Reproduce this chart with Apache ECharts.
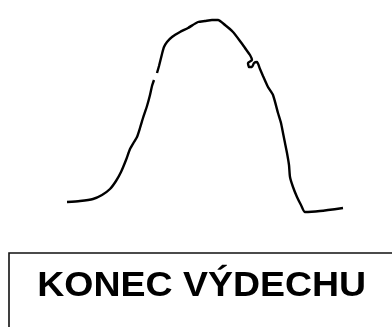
<!DOCTYPE html>
<html>
<head>
<meta charset="utf-8">
<script src="https://cdn.jsdelivr.net/npm/echarts@6/dist/echarts.min.js"></script>
<style>
  html, body { margin: 0; padding: 0; background: #fff; }
  #chart { width: 392px; height: 327px; }
</style>
</head>
<body>
<div id="chart"></div>
<script>
// Expiration trace, sketched: time (horizontal) against flow (vertical).
// A null splits the pen stroke where it was lifted.
const timeValues = [
  67, 80, 93, 102, 110, 116, 121, 126, 130, 134, 137, 140, 143, 147, 150, 152, 154,
  null,
  157, 159, 162, 164, 167, 172, 180, 188, 198, 205, 212, 218, 225, 233, 240, 245, 250,
  252, 248, 249, 252, 254, 257, 260, 263, 268, 273, 278, 281, 283, 285, 287, 289, 290,
  293, 297, 301, 305, 320, 343
];
const flowValues = [
  125, 126, 128, 132, 138, 146, 155, 167, 178, 185, 190, 199, 209, 221, 232, 241, 247,
  null,
  254, 261, 273, 280, 285, 290, 295, 299, 305, 306, 307, 307, 302, 295, 286, 279, 272,
  267, 264, 260, 260, 264, 265, 258, 251, 240, 232, 214, 204, 194, 184, 174, 162, 150,
  140, 130, 122, 115, 116, 119
];
const caption = 'KONEC VÝDECHU';

const points = timeValues.map((t, i) => (t === null ? [null, null] : [t, flowValues[i]]));

const chart = echarts.init(document.getElementById('chart'), null, { renderer: 'canvas' });
chart.setOption({
  animation: false,
  backgroundColor: '#ffffff',
  grid: { left: 0, right: 0, top: 0, bottom: 0 },
  xAxis: { type: 'value', min: 0, max: 392, show: false },
  yAxis: { type: 'value', min: 0, max: 327, show: false },
  series: [{
    type: 'line',
    data: points,
    showSymbol: false,
    connectNulls: false,
    smooth: 0.2,
    lineStyle: { color: '#000', width: 2.4 }
  }],
  graphic: [
    {
      type: 'rect',
      shape: { x: 9, y: 253, width: 420, height: 120 },
      style: { fill: null, stroke: '#111', lineWidth: 1.6 }
    },
    {
      type: 'text',
      x: 37.3,
      y: 269,
      scaleX: 1.07,
      style: {
        text: caption,
        font: 'bold 35px "Liberation Sans", Arial, sans-serif',
        fill: '#000',
        verticalAlign: 'top'
      }
    }
  ]
});
</script>
</body>
</html>
